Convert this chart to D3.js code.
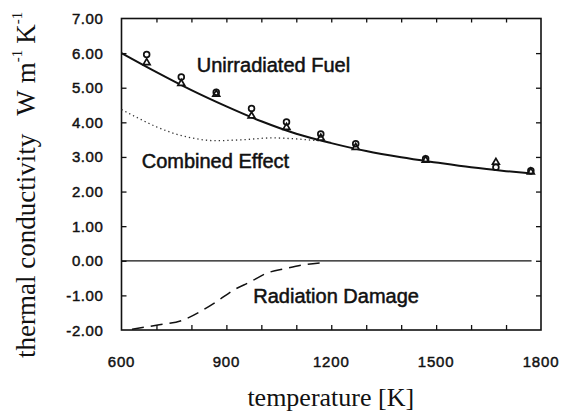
<!DOCTYPE html>
<html><head><meta charset="utf-8">
<script src="https://cdn.jsdelivr.net/npm/d3@7/dist/d3.min.js"></script>
<style>body{margin:0;background:#fff}svg{display:block}</style>
</head><body>
<svg id="c" width="561" height="414"></svg>
<script>
// ---- data ----
const xTickLabels = [600, 900, 1200, 1500, 1800];
const yTickLabels = [7, 6, 5, 4, 3, 2, 1, 0, -1, -2];
const measTemps = [672, 771, 871, 972, 1072, 1170, 1270, 1470, 1671, 1771];
const circleVals = [5.96, 5.31, 4.87, 4.40, 4.01, 3.66, 3.38, 2.95, 2.70, 2.60];
const triangleVals = [5.74, 5.14, 4.83, 4.20, 3.87, 3.56, 3.29, 2.92, 2.86, 2.58];
const unirrT = [600, 700, 800, 900, 1000, 1100, 1200, 1300, 1400, 1500, 1600, 1700, 1775];
const unirrK = [6.00, 5.45, 4.93, 4.46, 4.03, 3.67, 3.40, 3.17, 2.99, 2.84, 2.70, 2.59, 2.52];
const combT = [600, 650, 700, 750, 800, 870, 950, 1030, 1100, 1170];
const combK = [4.37, 4.11, 3.87, 3.68, 3.55, 3.47, 3.50, 3.55, 3.52, 3.46];
const dmgT = [630, 700, 777, 825, 872, 920, 968, 1015, 1072, 1120, 1172];
const dmgK = [-1.98, -1.86, -1.71, -1.47, -1.18, -0.85, -0.61, -0.36, -0.22, -0.12, -0.06];
const zeroT = [600, 1773];

const svg = d3.select("#c");
const x = d3.scaleLinear().domain([600, 1800]).range([121.5, 541]);
const y = d3.scaleLinear().domain([-2, 7]).range([330, 18.5]);

// frame
svg.append("rect").attr("x", x(600)).attr("y", y(7))
  .attr("width", x(1800) - x(600)).attr("height", y(-2) - y(7))
  .attr("fill", "none").attr("stroke", "#111").attr("stroke-width", 1.6);

const xt = d3.range(700, 1800, 100);
const yt = d3.range(-1, 7, 1);
svg.append("g").attr("transform", `translate(0,${y(-2)})`)
  .call(d3.axisBottom(x).tickValues(xt).tickSize(-5).tickFormat(""))
  .call(g => g.select(".domain").remove());
svg.append("g").attr("transform", `translate(0,${y(7)})`)
  .call(d3.axisTop(x).tickValues(xt).tickSize(-4).tickFormat(""))
  .call(g => g.select(".domain").remove());
svg.append("g").attr("transform", `translate(${x(600)},0)`)
  .call(d3.axisLeft(y).tickValues(yt).tickSize(-5).tickFormat(""))
  .call(g => g.select(".domain").remove());
svg.append("g").attr("transform", `translate(${x(1800)},0)`)
  .call(d3.axisRight(y).tickValues(yt).tickSize(-5).tickFormat(""))
  .call(g => g.select(".domain").remove());
svg.selectAll(".tick line").attr("stroke", "#111").attr("stroke-width", 1.3);

// tick labels
const tickFont = "'Liberation Sans', Arial, Helvetica, sans-serif";
svg.append("g").selectAll("text").data(yTickLabels).join("text")
  .attr("x", 103.5).attr("y", d => y(d) + 5.5)
  .attr("text-anchor", "end").attr("font-family", tickFont)
  .attr("font-size", 15).attr("letter-spacing", 0.6).attr("fill", "#111")
  .attr("stroke", "#111").attr("stroke-width", 0.45)
  .text(d => d.toFixed(2));
svg.append("g").selectAll("text").data(xTickLabels).join("text")
  .attr("x", d => x(d)).attr("y", 366.7)
  .attr("text-anchor", "middle").attr("font-family", tickFont)
  .attr("font-size", 15).attr("letter-spacing", 0.8).attr("fill", "#111")
  .attr("stroke", "#111").attr("stroke-width", 0.45)
  .text(d => d);

// zero line
svg.append("line").attr("x1", x(zeroT[0])).attr("x2", x(zeroT[1]))
  .attr("y1", y(0)).attr("y2", y(0)).attr("stroke", "#111").attr("stroke-width", 1.3);

const line = d3.line().x(d => x(d[0])).y(d => y(d[1])).curve(d3.curveMonotoneX);

svg.append("path").datum(unirrT.map((t, i) => [t, unirrK[i]]))
  .attr("d", line).attr("fill", "none").attr("stroke", "#111").attr("stroke-width", 2);
svg.append("path").datum(combT.map((t, i) => [t, combK[i]]))
  .attr("d", line).attr("fill", "none").attr("stroke", "#333").attr("stroke-width", 1.3)
  .attr("stroke-dasharray", "1.3,3");
svg.append("path").datum(dmgT.map((t, i) => [t, dmgK[i]]))
  .attr("d", line).attr("fill", "none").attr("stroke", "#111").attr("stroke-width", 1.5)
  .attr("stroke-dasharray", "12,7");

// markers
svg.append("g").selectAll("path").data(measTemps.map((t, i) => [t, triangleVals[i]])).join("path")
  .attr("transform", d => `translate(${x(d[0])},${y(d[1]) + 0.5})`)
  .attr("d", d3.symbol(d3.symbolTriangle, 20))
  .attr("fill", "#fff").attr("stroke", "#111").attr("stroke-width", 1.7);
svg.append("g").selectAll("circle").data(measTemps.map((t, i) => [t, circleVals[i]])).join("circle")
  .attr("cx", d => x(d[0])).attr("cy", d => y(d[1])).attr("r", 2.9)
  .attr("fill", "none").attr("stroke", "#111").attr("stroke-width", 1.7);

// annotations
const ann = [["Unirradiated Fuel", 196.7, 71.7], ["Combined Effect", 141.7, 167.7], ["Radiation Damage", 253.3, 303.3]];
svg.append("g").selectAll("text").data(ann).join("text")
  .attr("x", d => d[1]).attr("y", d => d[2])
  .attr("font-family", tickFont).attr("font-size", 20).attr("fill", "#111")
  .attr("stroke", "#111").attr("stroke-width", 0.5)
  .text(d => d[0]);

// axis titles
const serif = "'Liberation Serif', 'Times New Roman', Times, serif";
svg.append("text").attr("x", (x(600) + x(1800)) / 2 - 0.5).attr("y", 406)
  .attr("text-anchor", "middle").attr("font-family", serif).attr("font-size", 26).attr("fill", "#111")
  .text("temperature [K]");

const yt0 = svg.append("text").attr("transform", "translate(35,358) rotate(-90)")
  .attr("font-family", serif).attr("font-size", 27).attr("fill", "#111");
yt0.append("tspan").text("thermal conductivity");
yt0.append("tspan").attr("dx", 18).text("W");
yt0.append("tspan").attr("dx", 7).text("m");
yt0.append("tspan").attr("dy", -13).attr("font-size", 15).text("-1");
yt0.append("tspan").attr("dx", 6).attr("dy", 13).text("K");
yt0.append("tspan").attr("dy", -13).attr("font-size", 15).text("-1");
</script>
</body></html>
